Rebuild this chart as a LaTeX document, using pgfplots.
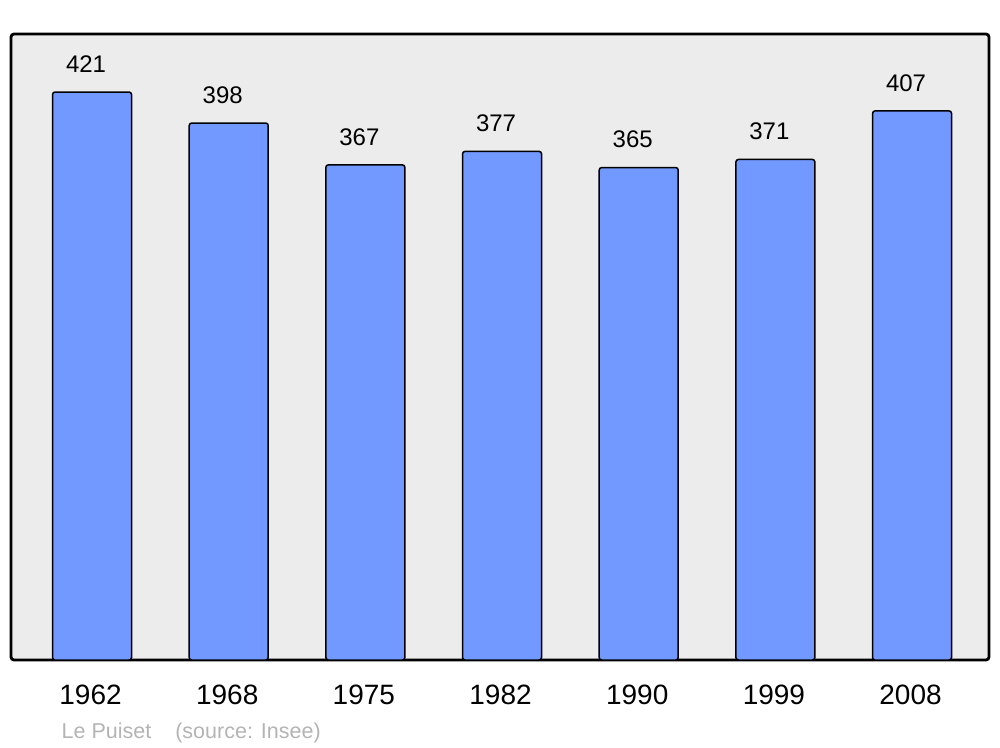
\documentclass[border=0pt]{standalone}
\usepackage{pgfplots}
\pgfplotsset{compat=1.18}
\usepackage{fontspec}
\setmainfont{Liberation Sans}
\definecolor{barblue}{RGB}{114,153,255}
\definecolor{bgray}{RGB}{236,236,236}
\definecolor{srcgray}{RGB}{180,180,180}
\begin{document}
\begin{tikzpicture}[x=1pt,y=1pt]
\path[use as bounding box] (0,0) rectangle (1000,747);
\begin{axis}[
  at={(11pt,87pt)}, anchor=south west,
  scale only axis, width=978pt, height=626pt,
  xmin=-0.593, xmax=6.563, ymin=0, ymax=464,
  ytick=\empty,
  xtick=data,
  xticklabels={1962,1968,1975,1982,1990,1999,2008},
  major tick length=0pt,
  /pgf/number format/assume math mode=true,
  xticklabel style={font=\fontsize{28}{32}\selectfont, anchor=center, yshift=-35pt, xshift=-1.5pt},
  axis line style={line width=2.8pt, rounded corners=3pt},
  axis background/.style={fill=bgray, rounded corners=3pt},
  clip=false,
  ybar, bar width=0.578,
  nodes near coords,
  nodes near coords style={font=\fontsize{24}{28}\selectfont, anchor=center, yshift=28pt, xshift=-6pt, /pgf/number format/.cd, fixed, precision=0},
]
\addplot[fill=barblue, draw=black, line width=1.5pt, rounded corners=2.5pt] coordinates {(0,421) (1,398) (2,367) (3,377) (4,365) (5,371) (6,407)};
\end{axis}
\node[anchor=base west, text=srcgray, font=\fontsize{21.5}{24}\selectfont, inner sep=0pt] at (61.5,9) {Le Puiset\hspace{24pt}(source: Insee)};
\end{tikzpicture}
\end{document}
